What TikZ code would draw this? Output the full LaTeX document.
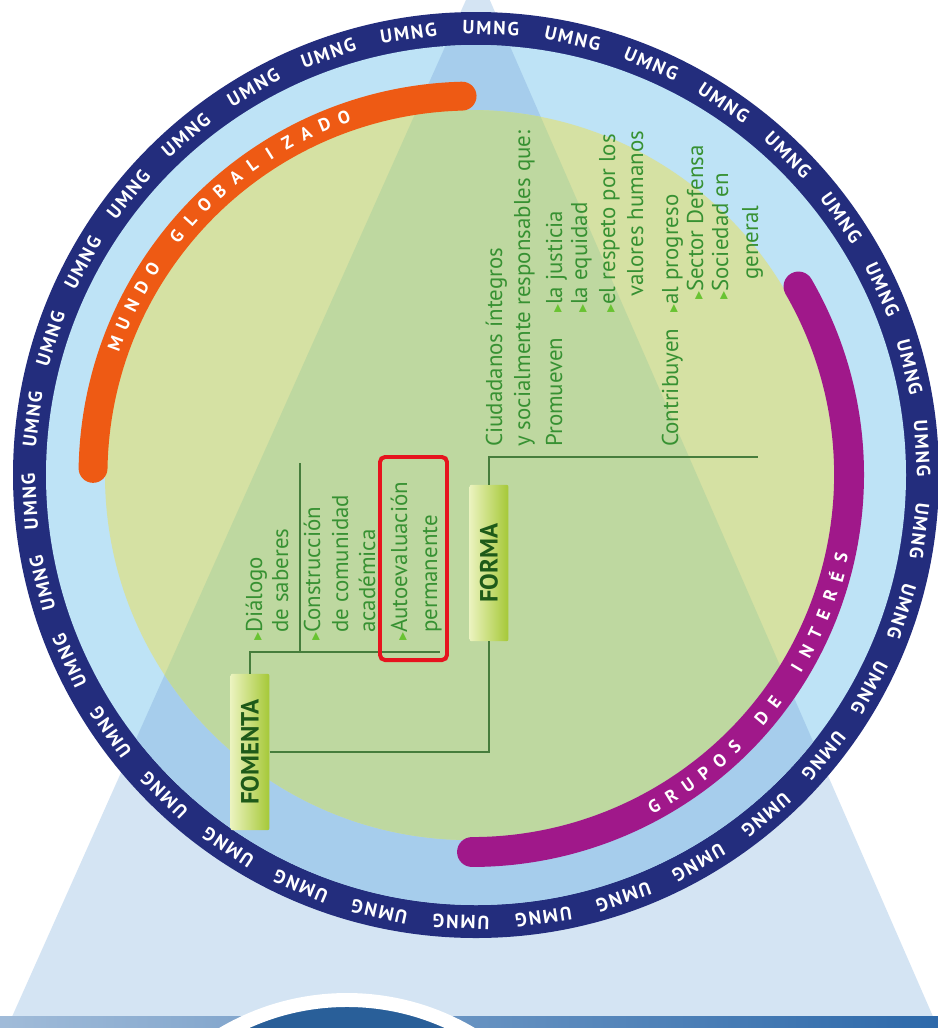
\documentclass[tikz,border=0pt]{standalone}
\usepackage{fontspec}
\setmainfont{PT Sans}
\newfontfamily\symfont{DejaVu Sans}
\newfontfamily\ringfont[LetterSpace=10]{PT Sans}
\usepackage{tikz}
\usetikzlibrary{positioning}

\definecolor{umngblue}{RGB}{35,45,125}
\definecolor{bandblue}{RGB}{190,227,246}
\definecolor{bandtri}{RGB}{166,205,236}
\definecolor{dreieck}{RGB}{212,228,243}
\definecolor{discgreen}{RGB}{213,225,163}
\definecolor{disctri}{RGB}{190,216,160}
\definecolor{orangeband}{RGB}{238,90,20}
\definecolor{magentaband}{RGB}{160,24,138}
\definecolor{txtgreen}{RGB}{55,145,50}
\definecolor{bulgreen}{RGB}{105,195,50}
\definecolor{astgreen}{RGB}{70,125,60}
\definecolor{boxlight}{RGB}{235,243,190}
\definecolor{boxmid}{RGB}{200,225,80}
\definecolor{boxdark}{RGB}{165,200,55}
\definecolor{boxtext}{RGB}{30,90,25}
\definecolor{rahmenrot}{RGB}{230,20,30}
\definecolor{logoblue}{RGB}{45,105,170}

\newcommand{\blt}{{\color{bulgreen}\symfont\fontsize{16}{16}\selectfont ▸}}

\begin{document}
\begin{tikzpicture}[x=1bp,y=1bp,
	txt/.style={rotate=90,anchor=base west,inner sep=0pt,text=txtgreen,font=\fontsize{23}{27}\selectfont},
	etikett/.style={rotate=90,minimum width=157,minimum height=39,inner sep=0pt,rounded corners=2,
		left color=boxlight,middle color=boxmid,right color=boxdark,text=boxtext,font=\bfseries\fontsize{25}{28}\selectfont},
	ast/.style={draw=astgreen,line width=1.6},
	ringtxt/.style={text=white,inner sep=0pt,font=\ringfont\bfseries\fontsize{19}{19}\selectfont},
	bogen/.style={text=white,inner sep=0pt,font=\bfseries\fontsize{18}{18}\selectfont}]
	% Rahmen: 938 x 1028
	\fill[white] (0,0) rectangle (938,-1028);
	\useasboundingbox (0,0) rectangle (938,-1028);
	% Dreieck hinten
	\fill[dreieck] (478,27) -- (7,-1028) -- (938,-1028) -- cycle;
	% Streifen unten
	\fill[left color=logoblue!45,right color=logoblue] (0,-1016) rectangle (938,-1028);
	\begin{scope}
		\clip (0,-990) rectangle (938,-1028);
		\fill[logoblue!90!black] (347,-1244) circle (244);
		\draw[white,line width=14] (347,-1244) circle (244);
	\end{scope}
	% Ring UMNG
	\coordinate (m) at (476,-475);
	\fill[umngblue] (m) circle (463);
	\fill[bandblue] (m) circle (430);
	\begin{scope}
		\clip (m) circle (430);
		\fill[bandtri] (478,27) -- (7,-1028) -- (938,-1028) -- cycle;
	\end{scope}
	\begin{scope}[shift={(476,-475)}]
		\foreach \i in {0,...,33}
		\node[ringtxt,rotate=88.1+\i*360/34-90] (u\i) at (88.1+\i*360/34:447) {UMNG};
	\end{scope}
	% Scheibe
	\coordinate (g) at (470,-475);
	\fill[discgreen] (g) circle (365);
	\begin{scope}
		\clip (g) circle (365);
		\fill[disctri] (478,27) -- (7,-1028) -- (938,-1028) -- cycle;
	\end{scope}
	% Boegen
	\begin{scope}[shift={(472,-475)}]
		\draw[orangeband,line width=29,line cap=round] (179:379) arc (179:91.5:379);
		\draw[magentaband,line width=30,line cap=round] (30:377) arc (30:-90:377);
		\foreach \b [count=\i] in {M,U,N,D,O,{},G,L,O,B,A,L,I,Z,A,D,O}
		\node[bogen,rotate=162.9-3.13*\i-90] (mg\i) at (162.9-3.13*\i:380) {\b};
		\foreach \b [count=\i] in {G,R,U,P,O,S,{},D,E,{},I,N,T,E,R,É,S}
		\node[bogen,rotate=-64.24+3.04*\i+90] (gi\i) at (-64.24+3.04*\i:378) {\b};
	\end{scope}
	% Etiketten
	\node[etikett] (fomenta) at (250,-752) {FOMENTA};
	\node[etikett] (forma) at (489,-563) {FORMA};
	% Aeste
	\coordinate (k1) at (250,-652);
	\coordinate (k2) at (440,-652);
	\coordinate (k3) at (300,-463);
	\coordinate (k5) at (489,-457);
	\coordinate (k6) at (758,-457);
	\draw[ast] (fomenta.east) -- (k1) -- (k2);
	\draw[ast] (k3) -- (k3 |- k1);
	\draw[ast] (fomenta.south) -| (forma.west);
	\draw[ast] (forma.east) -- (k5) -- (k6);
	% Texte FOMENTA
	\node[txt] (d1) at (262,-641) {\blt Diálogo};
	\node[txt] (d2) at (288,-633) {de saberes};
	\node[txt] (c1) at (320,-641) {\blt Construcción};
	\node[txt] (c2) at (348,-633) {de comunidad};
	\node[txt] (c3) at (375,-633) {académica};
	\node[txt] (a1) at (407,-641) {\blt Autoevaluación};
	\node[txt] (a2) at (437,-633) {permanente};
	% Texte FORMA
	\node[txt] (f1) at (502,-447) {Ciudadanos íntegros};
	\node[txt] (f2) at (530,-447) {y socialmente responsables que:};
	\node[txt] (f3) at (562,-447) {Promueven};
	\node[txt] (f3b) at (562,-313) {\blt la justicia};
	\node[txt] (f4) at (587,-313) {\blt la equidad};
	\node[txt] (f5) at (615,-313) {\blt el respeto por los};
	\node[txt] (f6) at (643,-297) {valores humanos};
	\node[txt] (f7) at (678,-447) {Contribuyen};
	\node[txt] (f7b) at (678,-313) {\blt al progreso};
	\node[txt] (f8) at (703,-300) {\blt Sector Defensa};
	\node[txt] (f9) at (728,-300) {\blt Sociedad en};
	\node[txt] (f10) at (758,-280) {general};
	% Markierung
	\draw[rahmenrot,line width=4,rounded corners=5] (380,-457) rectangle (447,-660);
\end{tikzpicture}
\end{document}
